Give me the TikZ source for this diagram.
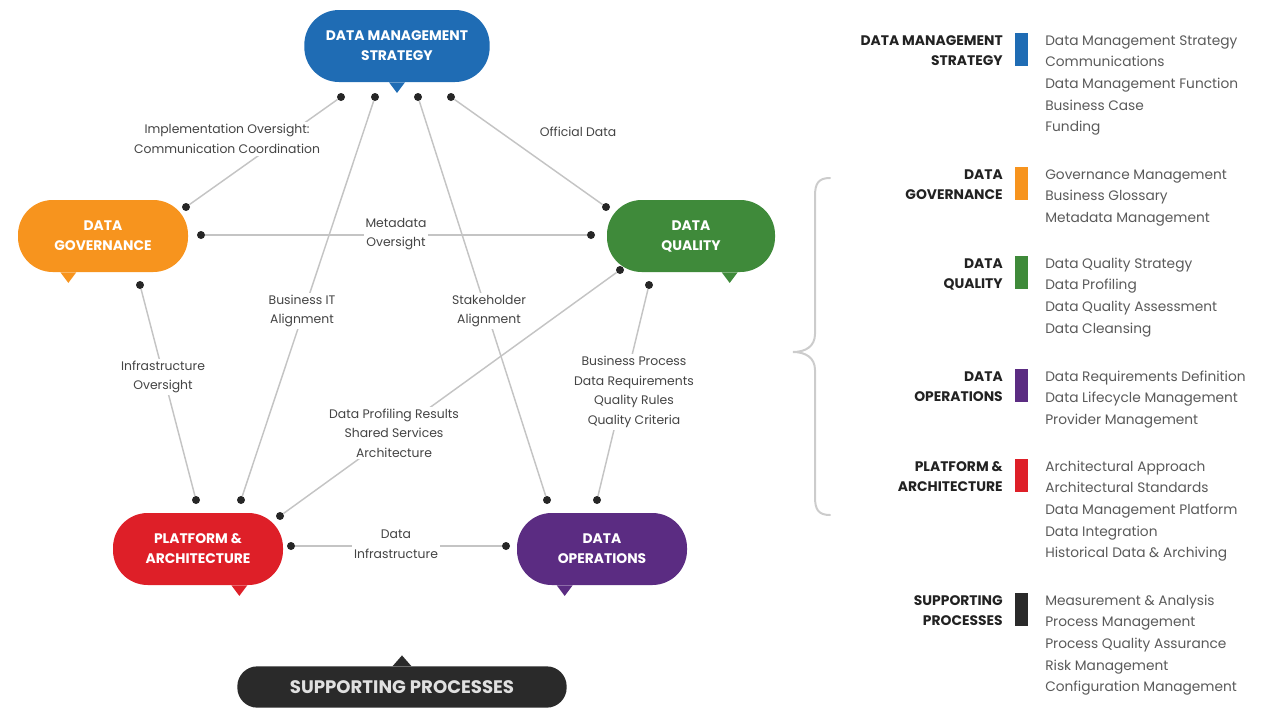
\documentclass[tikz,border=0pt]{standalone}
\usepackage{fontspec}
\setmainfont{Poppins}
\definecolor{cdms}{HTML}{1F6CB4}
\definecolor{cdg}{HTML}{F7941E}
\definecolor{cdq}{HTML}{3F8A3A}
\definecolor{cpa}{HTML}{DE1F28}
\definecolor{cdo}{HTML}{5B2C82}
\definecolor{csp}{HTML}{2A2A2A}
\definecolor{lgray}{HTML}{C4C4C4}
\definecolor{bgray}{HTML}{CCCCCC}
\definecolor{tgray}{HTML}{444444}
\definecolor{igray}{HTML}{5A5A5A}
\definecolor{hdark}{HTML}{222222}
\begin{document}
\begin{tikzpicture}[x=0.75pt,y=-0.75pt,
  pill/.style={rounded corners=26pt, minimum height=54pt, text=white,
    font=\bfseries\fontsize{10.4}{15}\selectfont, align=center, inner sep=0pt},
  dot/.style={circle, fill=black!85, minimum size=6pt, inner sep=0pt},
  conn/.style={draw=lgray, line width=1.1pt},
  lbl/.style={fill=white, text=tgray, align=center, inner sep=1.5pt,
    font=\fontsize{9.3}{14.6}\selectfont},
  item/.style={anchor=base west, text=igray, inner sep=0pt,
    font=\fontsize{10.3}{12}\selectfont},
  head/.style={anchor=base east, text=hdark, inner sep=0pt,
    font=\bfseries\fontsize{10.4}{12}\selectfont},
]
\useasboundingbox (0,0) rectangle (1271,707);

% ---------- bubbles ----------
\node[pill, fill=cdms, minimum width=139pt] (dms) at (397,46) {DATA MANAGEMENT\\STRATEGY};
\fill[cdms] ([xshift=-6pt]dms.south) -- ([yshift=-8pt]dms.south) -- ([xshift=6pt]dms.south) -- cycle;

\node[pill, fill=cdg, minimum width=127.5pt] (dg) at (103,236) {DATA\\GOVERNANCE};
\fill[cdg] ([xshift=-32pt]dg.south) -- ([xshift=-26pt,yshift=-8pt]dg.south) -- ([xshift=-20pt]dg.south) -- cycle;

\node[pill, fill=cdq, minimum width=126pt] (dq) at (691,236) {DATA\\QUALITY};
\fill[cdq] ([xshift=23pt]dq.south) -- ([xshift=29pt,yshift=-8pt]dq.south) -- ([xshift=35pt]dq.south) -- cycle;

\node[pill, fill=cpa, minimum width=127.5pt] (pa) at (198,549) {PLATFORM \&\\ARCHITECTURE};
\fill[cpa] ([xshift=25pt]pa.south) -- ([xshift=31pt,yshift=-8pt]pa.south) -- ([xshift=37pt]pa.south) -- cycle;

\node[pill, fill=cdo, minimum width=127.5pt] (do) at (602,549) {DATA\\OPERATIONS};
\fill[cdo] ([xshift=-34pt]do.south) -- ([xshift=-28pt,yshift=-8pt]do.south) -- ([xshift=-22pt]do.south) -- cycle;

\node[pill, fill=csp, minimum width=247pt, minimum height=31pt, rounded corners=15pt,
  font=\bfseries\fontsize{13.6}{15}\selectfont, text=white!88!black] (sp) at (402,687) {SUPPORTING PROCESSES};
\fill[csp] ([xshift=-7pt]sp.north) -- ([yshift=8pt]sp.north) -- ([xshift=7pt]sp.north) -- cycle;

% ---------- dots ----------
\node[dot] (t1) at (341,97) {};
\node[dot] (t2) at (375,97) {};
\node[dot] (t3) at (418,97) {};
\node[dot] (t4) at (451,97) {};
\node[dot] (g1) at (186,207) {};
\node[dot] (g2) at (201,235) {};
\node[dot] (g3) at (140,285) {};
\node[dot] (q1) at (606,207) {};
\node[dot] (q2) at (591,235) {};
\node[dot] (q3) at (620,270) {};
\node[dot] (q4) at (649,285) {};
\node[dot] (p1) at (196,500) {};
\node[dot] (p2) at (241,500) {};
\node[dot] (p3) at (280,516) {};
\node[dot] (p4) at (291,546) {};
\node[dot] (o1) at (547,500) {};
\node[dot] (o2) at (597,500) {};
\node[dot] (o3) at (506,546) {};

% ---------- connectors ----------
\draw[conn] (t1) -- (g1);
\draw[conn] (t4) -- (q1);
\draw[conn] (g2) -- (q2);
\draw[conn] (t2) -- (p2);
\draw[conn] (t3) -- (o1);
\draw[conn] (g3) -- (p1);
\draw[conn] (q3) -- (p3);
\draw[conn] (q4) -- (o2);
\draw[conn] (p4) -- (o3);

% ---------- labels ----------
\node[lbl] (l1) at (227,139) {Implementation Oversight:\\Communication Coordination};
\node[lbl] (l2) at (578,132) {Official Data};
\node[lbl] (l3) at (396,234) {Metadata\\Oversight};
\node[lbl] (l4) at (302,311) {Business IT\\Alignment};
\node[lbl] (l5) at (489,311) {Stakeholder\\Alignment};
\node[lbl] (l6) at (163,377) {Infrastructure\\Oversight};
\node[lbl] (l7) at (394,433) {Data Profiling Results\\Shared Services\\Architecture};
\node[lbl] (l8) at (634,392) {Business Process\\Data Requirements\\Quality Rules\\Quality Criteria};
\node[lbl] (l9) at (396,544) {Data\\Infrastructure};

% ---------- brace ----------
\draw[bgray, line width=1.5pt, line cap=round]
  (830,178) .. controls (818,178) and (815,184) .. (815,196)
  -- (815,334) .. controls (815,346) and (806,352) .. (793,352)
  .. controls (806,352) and (815,358) .. (815,370)
  -- (815,497) .. controls (815,509) and (818,515) .. (830,515);

% ---------- legend ----------
\newcommand{\legendgroup}[5]{%
  \fill[#2] (1015,#3-7) rectangle (1028,#3+26);
  \foreach \h [count=\k] in {#4} {
    \node[head] (#1h\k) at (1003,#3+5+20*\k-20) {\h};
  }
  \foreach \it [count=\k] in {#5} {
    \node[item] (#1i\k) at (1045,#3+5+21.7*\k-21.7) {\it};
  }
}
\legendgroup{a}{cdms}{40}{DATA MANAGEMENT,STRATEGY}{Data Management Strategy,Communications,Data Management Function,Business Case,Funding}
\legendgroup{b}{cdg}{174}{DATA,GOVERNANCE}{Governance Management,Business Glossary,Metadata Management}
\legendgroup{c}{cdq}{263}{DATA,QUALITY}{Data Quality Strategy,Data Profiling,Data Quality Assessment,Data Cleansing}
\legendgroup{d}{cdo}{376}{DATA,OPERATIONS}{Data Requirements Definition,Data Lifecycle Management,Provider Management}
\legendgroup{e}{cpa}{466}{PLATFORM \&,ARCHITECTURE}{Architectural Approach,Architectural Standards,Data Management Platform,Data Integration,Historical Data \& Archiving}
\legendgroup{f}{csp}{600}{SUPPORTING,PROCESSES}{Measurement \& Analysis,Process Management,Process Quality Assurance,Risk Management,Configuration Management}
\end{tikzpicture}
\end{document}
